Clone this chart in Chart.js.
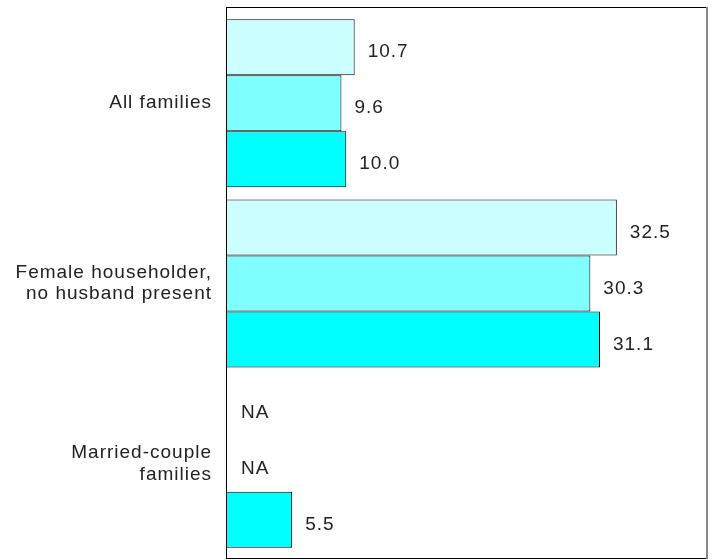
<!DOCTYPE html>
<html>
<head>
<meta charset="utf-8">
<script src="https://cdn.jsdelivr.net/npm/chart.js@4"></script>
<style>
  html, body { margin: 0; padding: 0; background: #ffffff; }
  #wrap { width: 719px; height: 560px; }
</style>
</head>
<body>
<div id="wrap"><canvas id="c" width="719" height="560"></canvas></div>
<script>
const categories = [["All families"], ["Female householder,", "no husband present"], ["Married-couple", "families"]];
const seriesNames = ["Series 1", "Series 2", "Series 3"];
const series1 = [10.7, 32.5, null];
const series2 = [9.6, 30.3, null];
const series3 = [10.0, 31.1, 5.5];
const seriesColors = ["#ccffff", "#80ffff", "#00ffff"];
const xMin = 0, xMax = 40;

const FONT = "'Liberation Sans', Arial, sans-serif";
const SPACING = '1px';

const spacingPlugin = {
  id: 'spacing',
  beforeDraw(chart) { chart.ctx.letterSpacing = SPACING; }
};

const framePlugin = {
  id: 'frame',
  afterDraw(chart) {
    const ctx = chart.ctx, a = chart.chartArea;
    const top = a.top - 6, bottom = a.bottom + 5;
    ctx.save();
    ctx.strokeStyle = '#000';
    ctx.lineWidth = 1;
    ctx.beginPath();
    ctx.moveTo(a.left + 0.5, top + 0.5);
    ctx.lineTo(a.right, top + 0.5);
    ctx.moveTo(a.left + 0.5, top);
    ctx.lineTo(a.left + 0.5, bottom);
    ctx.moveTo(a.left, bottom - 0.5);
    ctx.lineTo(a.right, bottom - 0.5);
    ctx.stroke();
    ctx.strokeStyle = '#888';
    ctx.lineWidth = 2;
    ctx.beginPath();
    ctx.moveTo(a.right, top);
    ctx.lineTo(a.right, bottom);
    ctx.stroke();
    ctx.restore();
  }
};

const labelPlugin = {
  id: 'valueLabels',
  afterDatasetsDraw(chart) {
    const ctx = chart.ctx;
    const xs = chart.scales.x;
    ctx.save();
    ctx.letterSpacing = SPACING;
    ctx.font = "19px " + FONT;
    ctx.fillStyle = '#222';
    ctx.textAlign = 'left';
    ctx.textBaseline = 'middle';
    chart.data.datasets.forEach((ds, di) => {
      const meta = chart.getDatasetMeta(di);
      meta.data.forEach((el, i) => {
        const v = ds.data[i];
        let txt, x;
        if (v === null || v === undefined) {
          txt = 'NA';
          x = xs.getPixelForValue(0) + 15;
        } else {
          txt = v.toFixed(1);
          x = xs.getPixelForValue(v) + 13;
        }
        ctx.fillText(txt, x, el.y + 5);
      });
    });
    ctx.restore();
  }
};

new Chart(document.getElementById('c'), {
  type: 'bar',
  data: {
    labels: categories,
    datasets: [
      { label: seriesNames[0], data: series1, backgroundColor: seriesColors[0] },
      { label: seriesNames[1], data: series2, backgroundColor: seriesColors[1] },
      { label: seriesNames[2], data: series3, backgroundColor: seriesColors[2] }
    ].map(d => Object.assign(d, { borderColor: '#000', borderWidth: 1, borderSkipped: false }))
  },
  options: {
    indexAxis: 'y',
    responsive: false,
    animation: false,
    devicePixelRatio: 1,
    layout: { padding: { top: 13, bottom: 6, right: 12, left: 0 } },
    datasets: { bar: { categoryPercentage: 0.9316, barPercentage: 1.0 } },
    plugins: { legend: { display: false }, tooltip: { enabled: false } },
    scales: {
      x: { display: false, min: xMin, max: xMax },
      y: {
        grid: { display: false, drawTicks: false },
        border: { display: false },
        ticks: {
          color: '#222',
          padding: 14,
          font: { family: FONT, size: 19, lineHeight: 1.12 }
        },
        afterFit(scale) {
          scale.width = 226;
          scale.paddingTop = 0;
          scale.paddingBottom = 0;
        }
      }
    }
  },
  plugins: [spacingPlugin, framePlugin, labelPlugin]
});
</script>
</body>
</html>
